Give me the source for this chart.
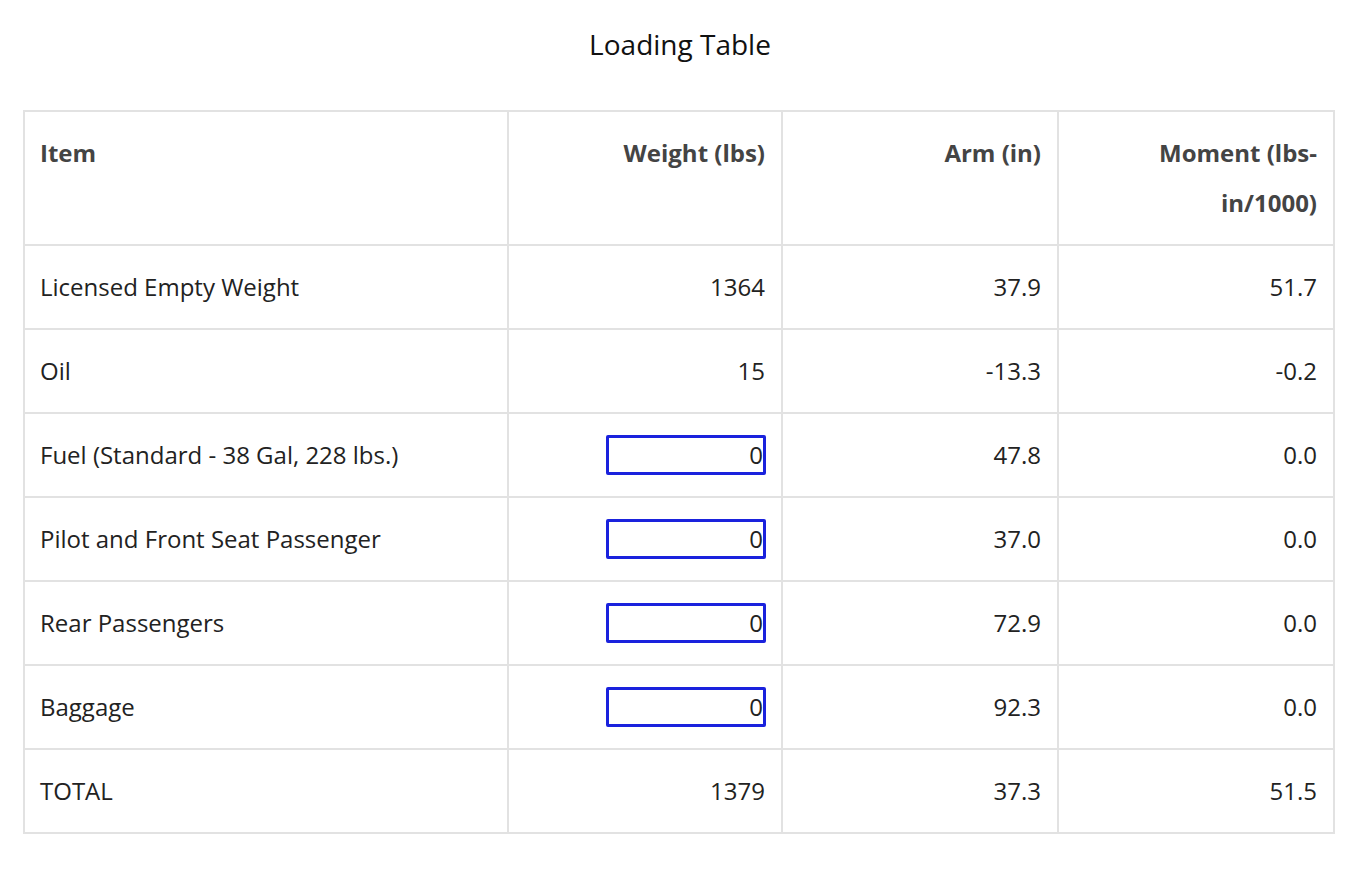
import React from "react";

const TITLE = "Loading Table";
const HEADERS = ["Item", "Weight (lbs)", "Arm (in)", "Moment (lbs-in/1000)"];
const ITEMS = [
  "Licensed Empty Weight",
  "Oil",
  "Fuel (Standard - 38 Gal, 228 lbs.)",
  "Pilot and Front Seat Passenger",
  "Rear Passengers",
  "Baggage",
  "TOTAL",
];
const WEIGHTS = ["1364", "15", "0", "0", "0", "0", "1379"];
const EDITABLE = [false, false, true, true, true, true, false];
const ARMS = ["37.9", "-13.3", "47.8", "37.0", "72.9", "92.3", "37.3"];
const MOMENTS = ["51.7", "-0.2", "0.0", "0.0", "0.0", "0.0", "51.5"];

const COL_WIDTHS = [484, 274, 276, 276];
const FONT = "'Open Sans', 'Noto Sans', sans-serif";

const cell: React.CSSProperties = {
  border: "2px solid #e2e2e2",
  padding: "16px 16px 16px 15px",
  lineHeight: "50px",
  fontSize: 24,
  color: "#222",
  verticalAlign: "top",
};

export default function App() {
  return (
    <div style={{ width: 1344, fontFamily: FONT }}>
      <div style={{ textAlign: "center", fontSize: 28, color: "#111", paddingTop: 17, height: 80, boxSizing: "border-box" }}>
        {TITLE}
      </div>
      <table
        style={{
          marginLeft: 15,
          width: 1310,
          borderCollapse: "collapse",
          tableLayout: "fixed",
          marginTop: 22,
        }}
      >
        <colgroup>
          {COL_WIDTHS.map((w, i) => (
            <col key={i} style={{ width: w }} />
          ))}
        </colgroup>
        <thead>
          <tr>
            {HEADERS.map((h, i) => (
              <th
                key={h}
                style={{
                  ...cell,
                  fontWeight: 700,
                  color: "#444",
                  textAlign: i === 0 ? "left" : "right",
                  height: 100,
                }}
              >
                {h}
              </th>
            ))}
          </tr>
        </thead>
        <tbody>
          {ITEMS.map((item, r) => (
            <tr key={item}>
              <td style={{ ...cell, textAlign: "left" }}>{item}</td>
              <td style={{ ...cell, textAlign: "right" }}>
                {EDITABLE[r] ? (
                  <span
                    style={{
                      display: "inline-block",
                      width: 154,
                      height: 34,
                      lineHeight: "34px",
                      border: "3px solid #1a22dd",
                      borderRadius: 2,
                      textAlign: "right",
                      verticalAlign: "middle",
                      boxSizing: "content-box",
                      marginRight: -1,
                      marginTop: -6,
                    }}
                  >
                    {WEIGHTS[r]}
                  </span>
                ) : (
                  WEIGHTS[r]
                )}
              </td>
              <td style={{ ...cell, textAlign: "right" }}>{ARMS[r]}</td>
              <td style={{ ...cell, textAlign: "right" }}>{MOMENTS[r]}</td>
            </tr>
          ))}
        </tbody>
      </table>
    </div>
  );
}
